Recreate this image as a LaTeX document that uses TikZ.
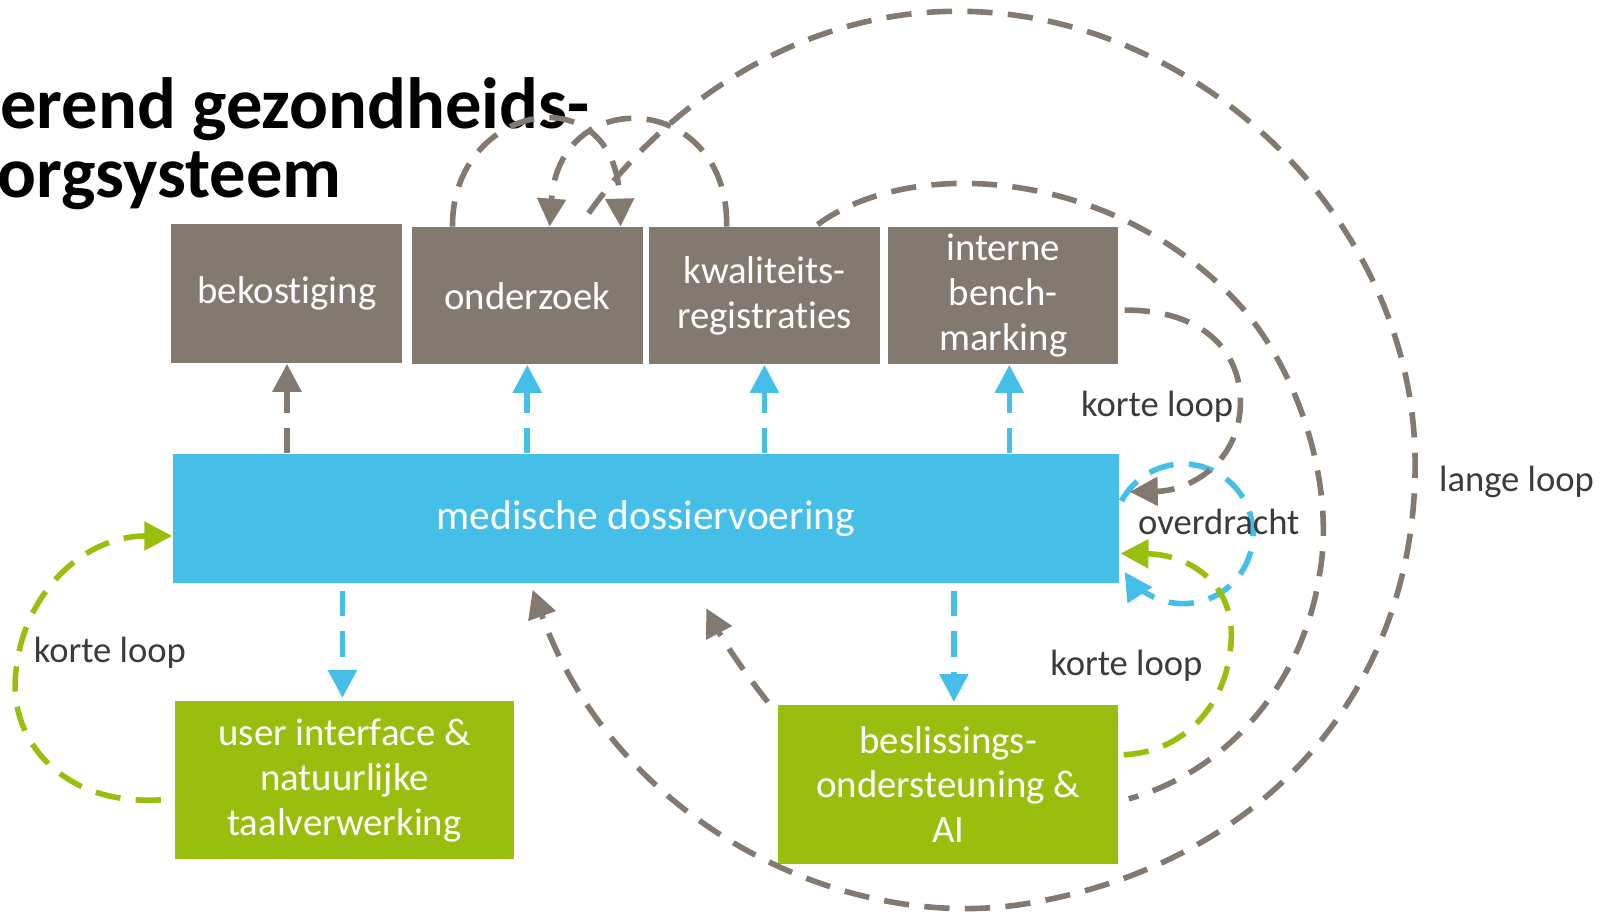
\documentclass[tikz,border=0pt]{standalone}
\usepackage{fontspec}
\setmainfont{Carlito}[Ligatures=NoCommon]
\usetikzlibrary{arrows.meta,calc}
\definecolor{cgrey}{RGB}{130,121,112}
\definecolor{cblue}{RGB}{69,190,232}
\definecolor{cgreen}{RGB}{154,190,14}
\definecolor{ctext}{RGB}{59,59,59}
\newcommand\boxfnt{\fontsize{21.5}{24.8}\selectfont}
\newcommand\bigboxfnt{\fontsize{23}{26}\selectfont}
\newcommand\lblfnt{\fontsize{20.3}{24}\selectfont}
\newcommand\ttlfnt{\fontsize{40.2}{38}\selectfont\bfseries}
\begin{document}
\begin{tikzpicture}[x=0.02cm,y=0.02cm,
  box/.style={rectangle, inner sep=0pt, align=center, text=white, font=\boxfnt},
  lbl/.style={inner sep=0pt, text=ctext, font=\lblfnt},
  conn/.style={line width=3.1pt, dash pattern=on 14pt off 8.5pt},
  tip/.style={-{Triangle[length=15.5pt,width=15.5pt]}},
  ttl/.style={anchor=base west, inner sep=0pt, text=black, font=\ttlfnt}]
\useasboundingbox (0,0) rectangle (1568,-891);

% title
\node[ttl] (t1) at (0,-125) {erend gezondheids-};
\node[ttl] (t2) at (-3,-192) {orgsysteem};

% boxes
\node[box, fill=cgrey, minimum width=4.5cm, minimum height=2.72cm] (bek) at (279.5,-286) {bekostiging};
\node[box, fill=cgrey, minimum width=4.5cm, minimum height=2.68cm] (ond) at (513.5,-288) {onderzoek};
\node[box, fill=cgrey, minimum width=4.5cm, minimum height=2.68cm] (kwa) at (744.5,-288) {kwaliteits-\\registraties};
\node[box, fill=cgrey, minimum width=4.48cm, minimum height=2.68cm] (bench) at (977,-288) {interne\\bench-\\marking};
\node[box, fill=cblue, minimum width=18.44cm, minimum height=2.52cm, font=\bigboxfnt] (mdv) at (629,-505) {medische dossiervoering};
\node[box, fill=cgreen, minimum width=6.62cm, minimum height=3.08cm] (ui) at (335.5,-760) {user interface \&\\natuurlijke\\taalverwerking};
\node[box, fill=cgreen, minimum width=6.62cm, minimum height=3.08cm] (bes) at (923.5,-764) {beslissings-\\ondersteuning \&\\AI};

% overdracht loop
\draw[conn, cblue, tip] ($(mdv.east)+(2,17)$) arc[start angle=152, end angle=-147, radius=1.36cm];

% straight arrows
\draw[conn, cgrey, tip] (mdv.north -| bek.south) -- (bek.south);
\draw[conn, cblue, tip] (mdv.north -| ond.south) -- (ond.south);
\draw[conn, cblue, tip] (mdv.north -| kwa.south) -- (kwa.south);
\draw[conn, cblue, tip] ($(mdv.north -| bench.south)+(6,0)$) -- ($(bench.south)+(6,0)$);
\draw[conn, cblue, tip] ($(mdv.south -| ui.north)+(-2,-7)$) -- ($(ui.north)+(-2,3)$);
\draw[conn, cblue, tip] ($(mdv.south -| bes.north)+(5.5,-7)$) -- ($(bes.north)+(5.5,3)$);

% green left loop
\draw[conn, cgreen, tip] ($(ui.west)+(-13,-19)$) .. controls (60,-785) and (10,-720) .. (15,-660)
  .. controls (20,-580) and (80,-522) .. ($(mdv.west)+(0,-17)$);

% onderzoek self loop
\draw[conn, cgrey, tip] ($(ond.north west)+(40,0)$) .. controls (440,-100) and (600,-70) .. ($(ond.north east)+(-22,0)$);
% kwaliteitsregistraties -> onderzoek
\draw[conn, cgrey, tip] ($(kwa.north west)+(76,0)$) .. controls (710,-90) and (545,-80) .. ($(ond.north east)+(-91,0)$);

% lange loop
\draw[conn, cgrey, tip] ($(ond.north east)+(-53,13)$) .. controls (650,-100) and (780,-10) .. (935,-11)
  .. controls (1170,-12.5) and (1372,-215) .. (1378,-440)
  .. controls (1384,-660) and (1240,-840) .. (1000,-880)
  .. controls (820,-910) and (600,-800) .. ($(mdv.south west)+(351,-6)$);

% kwaliteitsregistraties -- beslissingsondersteuning
\draw[conn, cgrey] ($(kwa.north east)+(-61,2)$) .. controls (890,-150) and (1090,-165) .. (1210,-300)
  .. controls (1270,-370) and (1300,-480) .. (1285,-560)
  .. controls (1270,-660) and (1200,-750) .. ($(bes.east)+(10,-14)$);

% interne benchmarking korte loop
\draw[conn, cgrey, tip] ($(bench.east)+(6,-14)$) .. controls (1180,-302) and (1210,-350) .. (1208,-395)
  .. controls (1206,-450) and (1160,-478) .. ($(mdv.east)+(10,26)$);

% beslissingsondersteuning korte loop
\draw[conn, cgreen, tip] ($(bes.east)+(5,29)$) .. controls (1150,-733) and (1195,-690) .. (1199,-625)
  .. controls (1203,-570) and (1160,-540) .. ($(mdv.east)+(1,-34)$);

% beslissingsondersteuning -> dossiervoering
\draw[conn, cgrey, tip] ($(bes.north west)+(-10,3)$) .. controls (725,-655) and (705,-625) .. ($(mdv.south west)+(520,-24)$);

% labels
\node[lbl] (l1) at (107,-636) {korte loop};
\node[lbl] (l2) at (1127,-396) {korte loop};
\node[lbl] (l3) at (1187,-508) {overdracht};
\node[lbl] (l4) at (1097,-648) {korte loop};
\node[lbl] (l5) at (1477,-469) {lange loop};
\end{tikzpicture}
\end{document}
